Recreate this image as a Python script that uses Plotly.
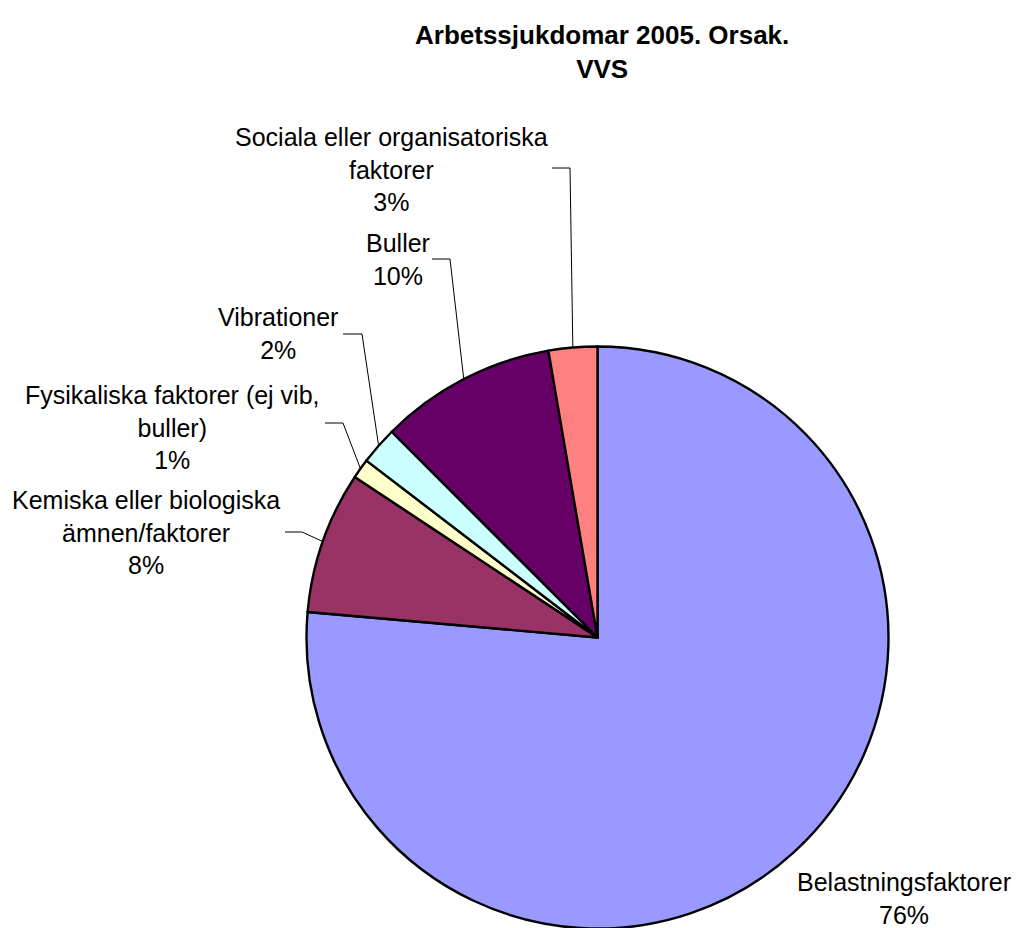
import math
import plotly.graph_objects as go

# ---- data ----
categories = [
    "Belastningsfaktorer",
    "Kemiska eller biologiska<br>ämnen/faktorer",
    "Fysikaliska faktorer (ej vib,<br>buller)",
    "Vibrationer",
    "Buller",
    "Sociala eller organisatoriska<br>faktorer",
]
values = [76.4, 7.9, 1.1, 2.1, 9.8, 2.7]
colors = ["#9999FF", "#993366", "#FFFFCC", "#CCFFFF", "#660066", "#FF8080"]
title_text = "<b>Arbetssjukdomar 2005. Orsak.<br>VVS</b>"

# ---- layout geometry (screen pixels) ----
W, H = 1022, 928            # figure size
OFF = 8                     # default page body margin shifts the figure
CX, CY, R = 597.5, 637.5, 291.0
# label text block centres and leader-line elbows (screen pixels); None = no leader
label_pos = [(904, 898), (145.5, 532), (172, 427), (278, 334), (397.5, 259), (391, 169)]
elbows = [None, ((285, 532), (302, 532)), ((325, 423), (343, 423)),
          ((343, 334), (362, 334)), ((432, 259), (450, 259)), ((552, 168), (570, 168))]

def px(x):
    return (x - OFF) / W

def py(y):
    return 1 - (y - OFF) / H

fig = go.Figure(go.Pie(
    labels=[c.replace("<br>", " ") for c in categories],
    values=values,
    sort=False,
    direction="clockwise",
    rotation=0,
    marker=dict(colors=colors, line=dict(color="black", width=2.4)),
    textinfo="none",
    hoverinfo="label+percent",
    domain=dict(x=[max(0, px(CX - R)), min(1, px(CX + R))],
                y=[max(0, py(CY + R)), min(1, py(CY - R))]),
    showlegend=False,
))

total = sum(values)
cum = 0.0
annotations = []
shapes = []
for cat, v, lp, el in zip(categories, values, label_pos, elbows):
    pct = round(100 * v / total)
    annotations.append(dict(
        x=px(lp[0]), y=py(lp[1]), xref="paper", yref="paper",
        text=f"{cat}<br>{pct}%", showarrow=False,
        xanchor="center", yanchor="middle", align="center",
        font=dict(family="Liberation Sans, Arial", size=25, color="black"),
    ))
    theta = 2 * math.pi * (cum + v / 2) / total
    ex, ey = CX + R * math.sin(theta), CY - R * math.cos(theta)
    if el is not None:
        (x0, y0), (x1, y1) = el
        path = f"M {px(x0)},{py(y0)} L {px(x1)},{py(y1)} L {px(ex)},{py(ey)}"
        shapes.append(dict(type="path", xref="paper", yref="paper", path=path,
                           line=dict(color="black", width=1)))
    cum += v

# chart title
annotations.append(dict(
    x=px(602), y=py(51.5), xref="paper", yref="paper",
    text=title_text, showarrow=False,
    xanchor="center", yanchor="middle", align="center",
    font=dict(family="Liberation Sans, Arial", size=26, color="black"),
))

fig.update_layout(
    width=W, height=H,
    margin=dict(l=0, r=0, t=0, b=0),
    paper_bgcolor="white", plot_bgcolor="white",
    annotations=annotations,
    shapes=shapes,
)

fig.write_html("out.html")
